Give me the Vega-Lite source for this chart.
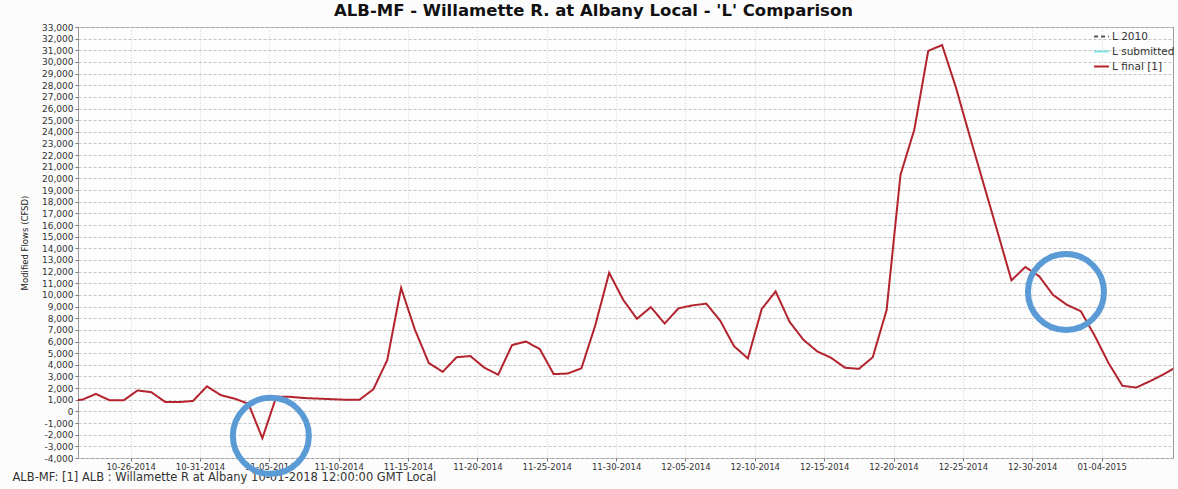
{
  "$schema": "https://vega.github.io/schema/vega-lite/v6.json",
  "width": 1095,
  "height": 431,
  "autosize": {"type": "none"},
  "padding": {"left": 78, "top": 27, "right": 5, "bottom": 31},
  "background": "#fcfcfc",
  "title": {
    "text": "ALB-MF - Willamette R. at Albany Local - 'L' Comparison",
    "fontSize": 16.5,
    "fontWeight": "bold",
    "color": "#111",
    "offset": 4,
    "dx": -32
  },
  "datasets": {
    "flows": [
      {"date": "2014-10-21T12:00", "value": 950, "series": "L final [1]"},
      {"date": "2014-10-22T12:00", "value": 1000, "series": "L final [1]"},
      {"date": "2014-10-23T12:00", "value": 1500, "series": "L final [1]"},
      {"date": "2014-10-24T12:00", "value": 950, "series": "L final [1]"},
      {"date": "2014-10-25T12:00", "value": 950, "series": "L final [1]"},
      {"date": "2014-10-26T12:00", "value": 1800, "series": "L final [1]"},
      {"date": "2014-10-27T12:00", "value": 1650, "series": "L final [1]"},
      {"date": "2014-10-28T12:00", "value": 800, "series": "L final [1]"},
      {"date": "2014-10-29T12:00", "value": 800, "series": "L final [1]"},
      {"date": "2014-10-30T12:00", "value": 900, "series": "L final [1]"},
      {"date": "2014-10-31T12:00", "value": 2150, "series": "L final [1]"},
      {"date": "2014-11-01T12:00", "value": 1400, "series": "L final [1]"},
      {"date": "2014-11-02T12:00", "value": 1100, "series": "L final [1]"},
      {"date": "2014-11-03T12:00", "value": 650, "series": "L final [1]"},
      {"date": "2014-11-04T12:00", "value": -2300, "series": "L final [1]"},
      {"date": "2014-11-05T12:00", "value": 1250, "series": "L final [1]"},
      {"date": "2014-11-06T12:00", "value": 1250, "series": "L final [1]"},
      {"date": "2014-11-07T12:00", "value": 1150, "series": "L final [1]"},
      {"date": "2014-11-08T12:00", "value": 1100, "series": "L final [1]"},
      {"date": "2014-11-09T12:00", "value": 1050, "series": "L final [1]"},
      {"date": "2014-11-10T12:00", "value": 1000, "series": "L final [1]"},
      {"date": "2014-11-11T12:00", "value": 1000, "series": "L final [1]"},
      {"date": "2014-11-12T12:00", "value": 1900, "series": "L final [1]"},
      {"date": "2014-11-13T12:00", "value": 4400, "series": "L final [1]"},
      {"date": "2014-11-14T12:00", "value": 10600, "series": "L final [1]"},
      {"date": "2014-11-15T12:00", "value": 7000, "series": "L final [1]"},
      {"date": "2014-11-16T12:00", "value": 4150, "series": "L final [1]"},
      {"date": "2014-11-17T12:00", "value": 3400, "series": "L final [1]"},
      {"date": "2014-11-18T12:00", "value": 4650, "series": "L final [1]"},
      {"date": "2014-11-19T12:00", "value": 4750, "series": "L final [1]"},
      {"date": "2014-11-20T12:00", "value": 3750, "series": "L final [1]"},
      {"date": "2014-11-21T12:00", "value": 3150, "series": "L final [1]"},
      {"date": "2014-11-22T12:00", "value": 5700, "series": "L final [1]"},
      {"date": "2014-11-23T12:00", "value": 6000, "series": "L final [1]"},
      {"date": "2014-11-24T12:00", "value": 5350, "series": "L final [1]"},
      {"date": "2014-11-25T12:00", "value": 3200, "series": "L final [1]"},
      {"date": "2014-11-26T12:00", "value": 3250, "series": "L final [1]"},
      {"date": "2014-11-27T12:00", "value": 3700, "series": "L final [1]"},
      {"date": "2014-11-28T12:00", "value": 7400, "series": "L final [1]"},
      {"date": "2014-11-29T12:00", "value": 11900, "series": "L final [1]"},
      {"date": "2014-11-30T12:00", "value": 9600, "series": "L final [1]"},
      {"date": "2014-12-01T12:00", "value": 7950, "series": "L final [1]"},
      {"date": "2014-12-02T12:00", "value": 8950, "series": "L final [1]"},
      {"date": "2014-12-03T12:00", "value": 7550, "series": "L final [1]"},
      {"date": "2014-12-04T12:00", "value": 8850, "series": "L final [1]"},
      {"date": "2014-12-05T12:00", "value": 9100, "series": "L final [1]"},
      {"date": "2014-12-06T12:00", "value": 9250, "series": "L final [1]"},
      {"date": "2014-12-07T12:00", "value": 7800, "series": "L final [1]"},
      {"date": "2014-12-08T12:00", "value": 5600, "series": "L final [1]"},
      {"date": "2014-12-09T12:00", "value": 4550, "series": "L final [1]"},
      {"date": "2014-12-10T12:00", "value": 8800, "series": "L final [1]"},
      {"date": "2014-12-11T12:00", "value": 10300, "series": "L final [1]"},
      {"date": "2014-12-12T12:00", "value": 7700, "series": "L final [1]"},
      {"date": "2014-12-13T12:00", "value": 6150, "series": "L final [1]"},
      {"date": "2014-12-14T12:00", "value": 5150, "series": "L final [1]"},
      {"date": "2014-12-15T12:00", "value": 4600, "series": "L final [1]"},
      {"date": "2014-12-16T12:00", "value": 3750, "series": "L final [1]"},
      {"date": "2014-12-17T12:00", "value": 3650, "series": "L final [1]"},
      {"date": "2014-12-18T12:00", "value": 4650, "series": "L final [1]"},
      {"date": "2014-12-19T12:00", "value": 8700, "series": "L final [1]"},
      {"date": "2014-12-20T12:00", "value": 20300, "series": "L final [1]"},
      {"date": "2014-12-21T12:00", "value": 24200, "series": "L final [1]"},
      {"date": "2014-12-22T12:00", "value": 30950, "series": "L final [1]"},
      {"date": "2014-12-23T12:00", "value": 31450, "series": "L final [1]"},
      {"date": "2014-12-24T12:00", "value": 27800, "series": "L final [1]"},
      {"date": "2014-12-25T12:00", "value": 23600, "series": "L final [1]"},
      {"date": "2014-12-26T12:00", "value": 19500, "series": "L final [1]"},
      {"date": "2014-12-27T12:00", "value": 15400, "series": "L final [1]"},
      {"date": "2014-12-28T12:00", "value": 11250, "series": "L final [1]"},
      {"date": "2014-12-29T12:00", "value": 12400, "series": "L final [1]"},
      {"date": "2014-12-30T12:00", "value": 11600, "series": "L final [1]"},
      {"date": "2014-12-31T12:00", "value": 10000, "series": "L final [1]"},
      {"date": "2015-01-01T12:00", "value": 9150, "series": "L final [1]"},
      {"date": "2015-01-02T12:00", "value": 8600, "series": "L final [1]"},
      {"date": "2015-01-03T12:00", "value": 6500, "series": "L final [1]"},
      {"date": "2015-01-04T12:00", "value": 4150, "series": "L final [1]"},
      {"date": "2015-01-05T12:00", "value": 2200, "series": "L final [1]"},
      {"date": "2015-01-06T12:00", "value": 2050, "series": "L final [1]"},
      {"date": "2015-01-07T12:00", "value": 2600, "series": "L final [1]"},
      {"date": "2015-01-08T12:00", "value": 3200, "series": "L final [1]"},
      {"date": "2015-01-09T12:00", "value": 3900, "series": "L final [1]"}
    ],
    "circles": [
      {"date": "2014-11-05T02:40", "value": -2100},
      {"date": "2015-01-01T10:20", "value": 10250}
    ]
  },
  "encoding": {
    "x": {
      "field": "date",
      "type": "temporal",
      "scale": {
        "domain": [
          {"year": 2014, "month": 10, "date": 22, "hours": 5},
          {"year": 2015, "month": 1, "date": 9, "hours": 3, "minutes": 30}
        ]
      },
      "axis": {
        "format": "%m-%d-%Y",
        "values": [
          {"year": 2014, "month": 10, "date": 26},
          {"year": 2014, "month": 10, "date": 31},
          {"year": 2014, "month": 11, "date": 5},
          {"year": 2014, "month": 11, "date": 10},
          {"year": 2014, "month": 11, "date": 15},
          {"year": 2014, "month": 11, "date": 20},
          {"year": 2014, "month": 11, "date": 25},
          {"year": 2014, "month": 11, "date": 30},
          {"year": 2014, "month": 12, "date": 5},
          {"year": 2014, "month": 12, "date": 10},
          {"year": 2014, "month": 12, "date": 15},
          {"year": 2014, "month": 12, "date": 20},
          {"year": 2014, "month": 12, "date": 25},
          {"year": 2014, "month": 12, "date": 30},
          {"year": 2015, "month": 1, "date": 4}
        ],
        "labelPadding": 1,
        "labelFontSize": 8.5,
        "title": "ALB-MF: [1] ALB : Willamette R at Albany 10-01-2018 12:00:00 GMT Local",
        "titleAnchor": "start",
        "titleAlign": "left",
        "titleX": -66,
        "titleY": 22,
        "titleBaseline": "alphabetic",
        "titleFontSize": 11.5,
        "titleFontWeight": "normal",
        "titleColor": "#333",
        "gridColor": "#d0d0d0",
        "gridDash": [1, 2]
      }
    },
    "y": {
      "field": "value",
      "type": "quantitative",
      "scale": {"domain": [-4000, 33000], "nice": false, "zero": false},
      "axis": {
        "title": "Modified Flows (CFSD)",
        "titleFontSize": 8.5,
        "titleFontWeight": "normal",
        "titleColor": "#222",
        "titlePadding": 12,
        "format": ",d",
        "labelExpr": "replace(datum.label, '\u2212', '-')",
        "values": [-4000, -3000, -2000, -1000, 0, 1000, 2000, 3000, 4000, 5000, 6000, 7000, 8000, 9000, 10000, 11000, 12000, 13000, 14000, 15000, 16000, 17000, 18000, 19000, 20000, 21000, 22000, 23000, 24000, 25000, 26000, 27000, 28000, 29000, 30000, 31000, 32000, 33000],
        "gridColor": "#c4c4c4",
        "gridDash": [3, 2]
      }
    }
  },
  "layer": [
    {
      "data": {"name": "flows"},
      "mark": {"type": "line", "strokeWidth": 2, "clip": true},
      "encoding": {
        "color": {
          "field": "series",
          "type": "nominal",
          "scale": {
            "domain": ["L 2010", "L submitted", "L final [1]"],
            "range": ["#555555", "#7fe3e3", "#b3232d"]
          },
          "legend": {
            "title": null,
            "orient": "none",
            "legendX": 1015,
            "legendY": 1,
            "symbolType": "stroke",
            "symbolSize": 220,
            "symbolStrokeWidth": 2,
            "labelFontSize": 10.5,
            "labelColor": "#333",
            "labelOffset": 2,
            "rowPadding": 1,
            "padding": 0
          }
        },
        "strokeDash": {
          "field": "series",
          "type": "nominal",
          "scale": {
            "domain": ["L 2010", "L submitted", "L final [1]"],
            "range": [[4, 3], [1, 0], [1, 0]]
          },
          "legend": null
        }
      }
    },
    {
      "data": {"name": "circles"},
      "mark": {
        "type": "point",
        "shape": "circle",
        "filled": false,
        "size": 5776,
        "stroke": "#5b9bd5",
        "strokeWidth": 6,
        "opacity": 1
      },
      "encoding": {}
    }
  ],
  "config": {
    "font": "DejaVu Sans",
    "view": {"stroke": "#9a9a9a", "fill": "#fdfdfd"},
    "axis": {
      "domain": false,
      "labelFontSize": 9,
      "labelColor": "#333",
      "labelPadding": 2,
      "tickSize": 3,
      "tickColor": "#777",
      "grid": true
    }
  }
}
